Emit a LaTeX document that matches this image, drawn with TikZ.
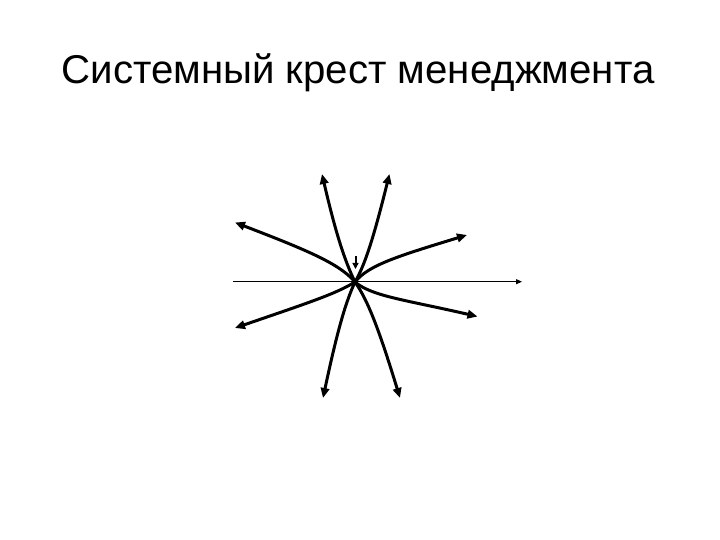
\documentclass[tikz,border=0pt]{standalone}
\usepackage{fontspec}
\setmainfont{Liberation Sans}
\usetikzlibrary{arrows.meta}
\begin{document}
\begin{tikzpicture}[x=1pt,y=1pt,
  ray/.style={line width=3pt, -{Triangle[length=10pt,width=8.5pt]}, out looseness=0.45, in looseness=1.5},
  axisline/.style={line width=1pt, -{Triangle[length=6pt,width=5pt]}},
  mark arrow/.style={line width=2pt, -{Triangle[length=6pt,width=6pt]}}]
\useasboundingbox (0,0) rectangle (720,540);
\node[font=\fontsize{40.2}{48}\selectfont, anchor=base, inner sep=0pt] (title) at (358,456) {Системный крест менеджмента};
\coordinate (c) at (355,258);
\coordinate (ul) at (322,366);
\coordinate (ur) at (389.5,366);
\coordinate (lu) at (235,317.5);
\coordinate (ru) at (467,305);
\coordinate (ll) at (235,212);
\coordinate (rl) at (477.5,223.5);
\coordinate (dl) at (323,142);
\coordinate (dr) at (400,142);
\coordinate (ax0) at (233,258.3);
\coordinate (ax1) at (522,258.3);
\coordinate (m0) at (355.5,283.5);
\coordinate (m1) at (355.5,271);
\draw[axisline] (ax0) -- (ax1);
\draw[mark arrow] (m0) -- (m1);
\draw[ray] (c) to[out=116,in=-77] (ul);
\draw[ray] (c) to[out=60,in=-104] (ur);
\draw[ray] (c) to[out=130,in=-21] (lu);
\draw[ray] (c) to[out=52,in=197] (ru);
\draw[ray] (c) to[out=-40,in=167] (rl);
\draw[ray] (c) to[out=212,in=19] (ll);
\draw[ray] (c) to[out=245,in=78] (dl);
\draw[ray] (c) to[out=-55,in=107] (dr);
\end{tikzpicture}
\end{document}
